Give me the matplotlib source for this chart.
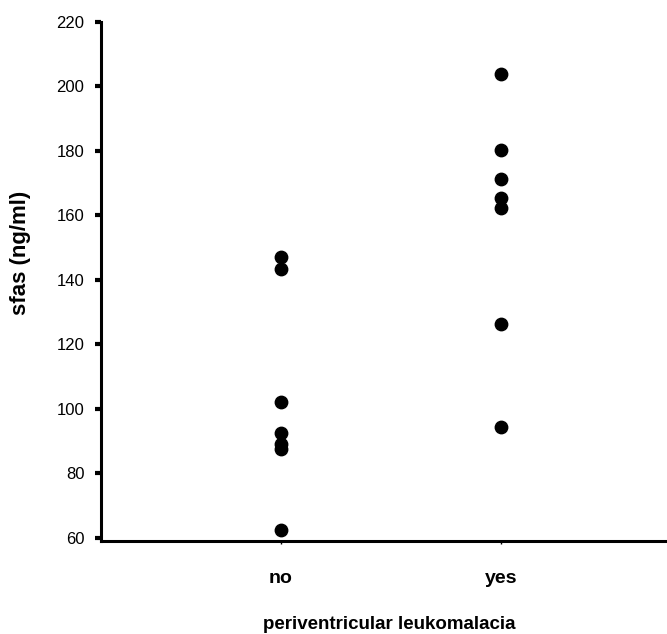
import matplotlib
matplotlib.use('Agg')
import matplotlib.pyplot as plt

plt.rcParams['font.family'] = ['Liberation Sans', 'DejaVu Sans']

groups = ['no', 'yes']
sfas_no = [147, 143.5, 102, 92.5, 89, 87.5, 62.5]
sfas_yes = [204, 180.3, 171.2, 165.3, 162.2, 126.3, 94.4]

fig = plt.figure(figsize=(6.67, 6.34), dpi=100)
ax = fig.add_axes([0.1514, 0.1467, 0.8486, 0.8186])

ax.scatter([0] * len(sfas_no), sfas_no, s=80, color='black', zorder=3)
ax.scatter([1] * len(sfas_yes), sfas_yes, s=80, color='black', zorder=3)

ax.set_xlim(-0.818, 1.755)
ax.set_ylim(59, 220)
ax.set_yticks(range(60, 221, 20))
ax.set_xticks([0, 1])
ax.set_xticklabels(groups, fontsize=14, fontweight='bold')

for s in ['top', 'right']:
    ax.spines[s].set_visible(False)
for s in ['left', 'bottom']:
    ax.spines[s].set_linewidth(2.2)

ax.tick_params(axis='y', direction='out', length=4, width=3, labelsize=12, pad=8)
ax.tick_params(axis='x', direction='out', length=2, width=1, pad=19)

ax.set_ylabel('sfas (ng/ml)', fontsize=16, fontweight='bold')
ax.yaxis.set_label_coords(-0.124, 0.555)
ax.set_xlabel('periventricular leukomalacia', fontsize=13.5, fontweight='bold')
ax.xaxis.set_label_coords(0.51, -0.145)

fig.savefig('out.png', dpi=100)
